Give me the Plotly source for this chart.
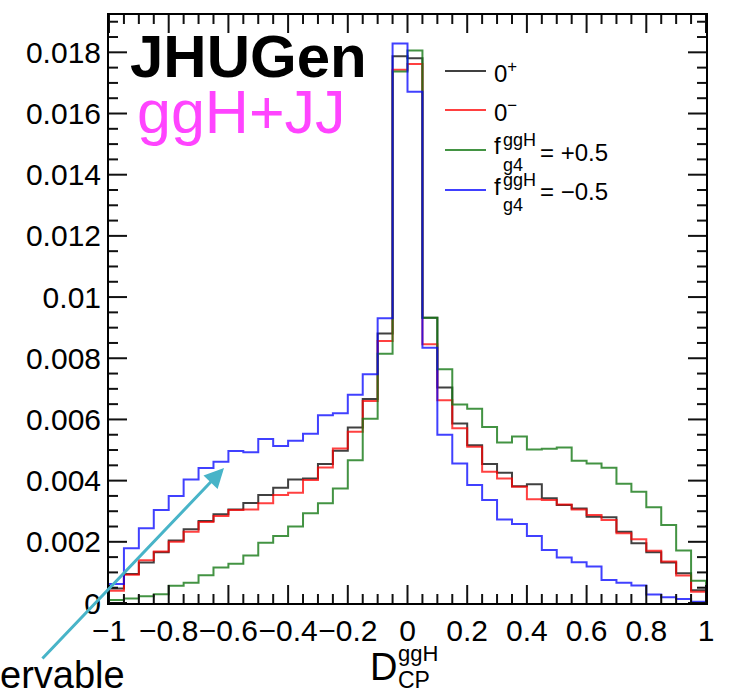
import plotly.graph_objects as go

bin_edges = [-1.0, -0.95, -0.9, -0.85, -0.8, -0.75, -0.7, -0.65, -0.6, -0.55,
             -0.5, -0.45, -0.4, -0.35, -0.3, -0.25, -0.2, -0.15, -0.1, -0.05,
             0.0, 0.05, 0.1, 0.15, 0.2, 0.25, 0.3, 0.35, 0.4, 0.45,
             0.5, 0.55, 0.6, 0.65, 0.7, 0.75, 0.8, 0.85, 0.9, 0.95, 1.0]

h_0plus = [0.00047, 0.00095, 0.00132, 0.00166, 0.00204, 0.00241, 0.00268, 0.00290, 0.00306, 0.00327,
           0.00353, 0.00377, 0.00404, 0.00407, 0.00454, 0.00498, 0.00574, 0.00667, 0.00881, 0.01787,
           0.01781, 0.00932, 0.00704, 0.00587, 0.00516, 0.00454, 0.00426, 0.00382, 0.00388, 0.00342,
           0.00320, 0.00309, 0.00282, 0.00280, 0.00233, 0.00195, 0.00166, 0.00132, 0.00097, 0.00042]

h_0minus = [0.00040, 0.00092, 0.00140, 0.00168, 0.00200, 0.00233, 0.00265, 0.00284, 0.00304, 0.00306,
            0.00326, 0.00353, 0.00360, 0.00402, 0.00443, 0.00505, 0.00560, 0.00660, 0.00856, 0.01743,
            0.01762, 0.00846, 0.00663, 0.00571, 0.00511, 0.00429, 0.00407, 0.00380, 0.00339, 0.00337,
            0.00322, 0.00306, 0.00288, 0.00271, 0.00228, 0.00208, 0.00171, 0.00136, 0.00090, 0.00037]

h_fplus = [0.00010, 0.00015, 0.00022, 0.00029, 0.00056, 0.00066, 0.00091, 0.00116, 0.00128, 0.00155,
           0.00197, 0.00219, 0.00250, 0.00293, 0.00326, 0.00374, 0.00467, 0.00602, 0.00815, 0.01737,
           0.01806, 0.00932, 0.00764, 0.00649, 0.00635, 0.00575, 0.00525, 0.00544, 0.00502, 0.00504,
           0.00508, 0.00465, 0.00456, 0.00442, 0.00390, 0.00364, 0.00313, 0.00255, 0.00172, 0.00073]

h_fminus = [0.00062, 0.00179, 0.00244, 0.00304, 0.00350, 0.00404, 0.00441, 0.00462, 0.00497, 0.00493,
            0.00536, 0.00513, 0.00530, 0.00553, 0.00614, 0.00620, 0.00681, 0.00748, 0.00931, 0.01829,
            0.01671, 0.00834, 0.00550, 0.00456, 0.00386, 0.00337, 0.00273, 0.00258, 0.00219, 0.00173,
            0.00149, 0.00133, 0.00119, 0.00075, 0.00066, 0.00057, 0.00028, 0.00019, 0.00013, 0.00004]

x_tick_vals = [-1, -0.8, -0.6, -0.4, -0.2, 0, 0.2, 0.4, 0.6, 0.8, 1]
x_tick_text = ["\u22121", "\u22120.8", "\u22120.6", "\u22120.4", "\u22120.2", "0",
               "0.2", "0.4", "0.6", "0.8", "1"]
y_tick_vals = [0, 0.002, 0.004, 0.006, 0.008, 0.01, 0.012, 0.014, 0.016, 0.018]
y_tick_text = ["0", "0.002", "0.004", "0.006", "0.008", "0.01", "0.012", "0.014", "0.016", "0.018"]

series = [
    ("0+", h_0plus, "rgba(0,0,0,0.75)"),
    ("0-", h_0minus, "rgba(255,0,0,0.75)"),
    ("fg4=+0.5", h_fplus, "rgba(20,120,20,0.8)"),
    ("fg4=-0.5", h_fminus, "rgba(0,0,255,0.75)"),
]

FONT = "Liberation Sans, Arial, sans-serif"
X_RANGE = [-1, 1]
Y_RANGE = [0, 0.01922]
L, R, T, B = 109, 706, 15, 603

fig = go.Figure()
for name, vals, col in series:
    xs = [bin_edges[0]] + bin_edges + [bin_edges[-1]]
    ys = [0] + vals + [vals[-1], 0]
    fig.add_trace(go.Scatter(x=xs, y=ys, mode="lines", line=dict(shape="hv", color=col, width=2),
                             name=name, showlegend=False, hoverinfo="skip"))

# inside tick marks on all four sides (ROOT style): axis-anchored shapes
x_minor = [v for v in bin_edges if v not in x_tick_vals]
y_minor = [i * 0.0005 for i in range(int(Y_RANGE[1] / 0.0005) + 1)]
y_minor = [v for v in y_minor if round(v / 0.002, 6) % 1 != 0]
TICK = dict(color="#111111", width=2)
for v, ln in [(v, 18) for v in x_tick_vals] + [(v, 9) for v in x_minor]:
    # bottom: from axis (y domain 0) upward; top: from domain 1 downward
    fig.add_shape(type="line", xref="x", yref="y domain", x0=v, x1=v, y0=0, y1=ln / (B - T), line=TICK)
    fig.add_shape(type="line", xref="x", yref="y domain", x0=v, x1=v, y0=1, y1=1 - ln / (B - T), line=TICK)
for v, ln in [(v, 18) for v in y_tick_vals] + [(v, 9) for v in y_minor]:
    fig.add_shape(type="line", xref="x domain", yref="y", y0=v, y1=v, x0=0, x1=ln / (R - L), line=TICK)
    fig.add_shape(type="line", xref="x domain", yref="y", y0=v, y1=v, x0=1, x1=1 - ln / (R - L), line=TICK)

fig.update_layout(
    template="none",
    xaxis=dict(range=X_RANGE, tickmode="array", tickvals=x_tick_vals, ticktext=x_tick_text, tickangle=0,
               showgrid=False, zeroline=False, showline=True, linecolor="black", linewidth=2,
               mirror=True, ticks="", tickfont=dict(family=FONT, size=30, color="black")),
    yaxis=dict(range=Y_RANGE, tickmode="array", tickvals=y_tick_vals, ticktext=y_tick_text,
               showgrid=False, zeroline=False, showline=True, linecolor="black", linewidth=2,
               mirror=True, ticks="", tickfont=dict(family=FONT, size=30, color="black")),
)

def px(x):
    return (x - L) / (R - L)
def py(y):
    return (B - y) / (B - T)

ann = []
def text(x, y, s, size, color="black", xanchor="left", bold=False):
    ann.append(dict(x=px(x), y=py(y), xref="paper", yref="paper", text=("<b>%s</b>" % s if bold else s),
                    showarrow=False, xanchor=xanchor, yanchor="middle",
                    font=dict(family=FONT, size=size, color=color)))

text(128, 57, "JHUGen", 60, bold=True)
text(135, 112, "ggH+JJ", 61, color="#ff44ff")

# legend (custom)
leg_y = [71, 110, 150, 190]
for (name, vals, col), yy in zip(series, leg_y):
    fig.add_shape(type="line", xref="paper", yref="paper", x0=px(445), x1=px(486), y0=py(yy), y1=py(yy),
                  line=dict(color=col, width=2))
text(492, 72, "0<sup>+</sup>", 24)
text(492, 111, "0<sup>\u2212</sup>", 24)
text(492, 146, "f", 24)
text(501, 140, "ggH", 18)
text(501, 165, "g4", 18)
text(538, 152, "= +0.5", 24)
text(492, 186, "f", 24)
text(501, 180, "ggH", 18)
text(501, 205, "g4", 18)
text(538, 191, "= \u22120.5", 24)

# x-axis title
text(383.5, 667, "D", 38, xanchor="center")
text(396, 653, "ggH", 22)
text(396, 680, "CP", 23)

# clipped caption and arrow
text(-2, 675, "ervable", 38)
ann.append(dict(x=-0.6147, y=0.00441, xref="x", yref="y", ax=-183, ay=192, axref="pixel", ayref="pixel",
                showarrow=True, arrowhead=2, arrowsize=1.3, arrowwidth=3, arrowcolor="#48b4c8", text=""))

fig.update_layout(width=731, height=700, margin=dict(l=L, r=731 - R, t=T, b=700 - B),
                  paper_bgcolor="white", plot_bgcolor="white", annotations=ann)

fig.write_html("out.html")
